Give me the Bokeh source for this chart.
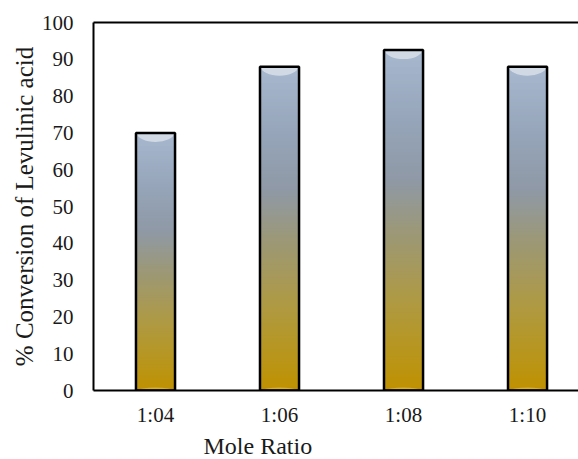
from bokeh.plotting import figure
from bokeh.models import Range1d, FixedTicker, LinearAxis, ColumnDataSource, Title
from bokeh.embed import file_html
from bokeh.resources import INLINE

categories = ["1:04", "1:06", "1:08", "1:10"]
conversion = [70, 88, 92.5, 88]
y_ticks = [0, 10, 20, 30, 40, 50, 60, 70, 80, 90, 100]
x_title = "Mole Ratio"
y_title = "% Conversion of Levulinic acid"

# gradient stops (fraction of bar height, colour)
stop_pos = [0.0, 0.08, 0.27, 0.46, 0.62, 0.78, 0.92, 1.0]
stop_col = ["#C09000", "#BA9515", "#AE9A45", "#9C9876", "#8F99A6", "#95A4B8", "#A0B0C6", "#A8B8CE"]

FONT = "Liberation Serif"
TXT = "#1a1a1a"
BAR_W = 0.315
N_SEG = 100
X_END = 3.911


def hex2rgb(h):
    h = h.lstrip("#")
    return tuple(int(h[i:i + 2], 16) for i in (0, 2, 4))


def interp(f):
    for i in range(len(stop_pos) - 1):
        if stop_pos[i] <= f <= stop_pos[i + 1]:
            t = (f - stop_pos[i]) / (stop_pos[i + 1] - stop_pos[i])
            a, b = hex2rgb(stop_col[i]), hex2rgb(stop_col[i + 1])
            c = [round(a[k] + (b[k] - a[k]) * t) for k in range(3)]
            return "#%02x%02x%02x" % tuple(c)
    return stop_col[-1]


p = figure(width=578, height=459,
           x_range=Range1d(0, X_END), y_range=Range1d(0, 100),
           output_backend="svg", toolbar_location=None,
           min_border_left=93, min_border_right=0, min_border_top=22, min_border_bottom=69)
p.grid.visible = False
p.outline_line_color = None
p.background_fill_color = "white"
p.border_fill_color = "white"

xs = [i + 0.5 for i in range(len(categories))]

# gradient segments (slightly overlapping to avoid seams)
seg = dict(left=[], right=[], bottom=[], top=[], color=[])
for x, v in zip(xs, conversion):
    for i in range(N_SEG):
        seg["left"].append(x - BAR_W / 2)
        seg["right"].append(x + BAR_W / 2)
        seg["bottom"].append(v * i / N_SEG)
        seg["top"].append(min(v, v * (i + 1.8) / N_SEG))
        seg["color"].append(interp((i + 0.5) / N_SEG))
p.quad(left="left", right="right", bottom="bottom", top="top", fill_color="color",
       line_color=None, source=ColumnDataSource(seg))

# glossy cap
p.ellipse(x=xs, y=conversion, width=BAR_W * 0.95, height=18, height_units="screen",
          fill_color="#D8DFE9", fill_alpha=0.85, line_color=None)
p.quad(left=[x - BAR_W / 2 - 0.02 for x in xs], right=[x + BAR_W / 2 + 0.02 for x in xs],
       bottom=conversion, top=[v + 3 for v in conversion], fill_color="white", line_color=None)
# soft glow at base
p.ellipse(x=xs, y=[0] * len(xs), width=BAR_W * 0.9, height=6, height_units="screen",
          fill_color="#E8C850", fill_alpha=0.6, line_color=None)

# outlines
p.quad(left=[x - BAR_W / 2 for x in xs], right=[x + BAR_W / 2 for x in xs],
       bottom=[0] * len(xs), top=conversion, fill_color=None, line_color="black", line_width=2.5)

# axes
xa = p.xaxis[0]
xa.ticker = FixedTicker(ticks=xs)
xa.major_label_overrides = {x: c for x, c in zip(xs, categories)}
ya = p.yaxis[0]
ya.ticker = FixedTicker(ticks=y_ticks)

for ax in (xa, ya):
    ax.axis_line_color = "black"
    ax.axis_line_width = 2
    ax.major_tick_line_color = None
    ax.minor_tick_line_color = None
    ax.major_tick_out = 0
    ax.major_tick_in = 0
    ax.minor_tick_out = 0
    ax.major_label_text_font = FONT
    ax.major_label_text_font_size = "21px"
    ax.major_label_text_color = TXT

xa.major_label_standoff = 12
ya.major_label_standoff = 20

top_axis = LinearAxis(ticker=FixedTicker(ticks=[]), axis_line_color="black", axis_line_width=2,
                      major_tick_line_color=None, minor_tick_line_color=None,
                      major_tick_out=0, minor_tick_out=0, major_label_text_font_size="0px")
p.add_layout(top_axis, "above")

# axis titles
p.add_layout(Title(text=x_title, align="left", offset=110, text_font="Times New Roman",
                   text_font_size="24px", text_font_style="normal", text_color=TXT, standoff=2),
             "below")
p.add_layout(Title(text=y_title, align="center", text_font="serif", text_font_size="25px",
                   text_font_style="normal", text_color=TXT, standoff=2), "left")

open("out.html", "w").write(file_html(p, INLINE))
